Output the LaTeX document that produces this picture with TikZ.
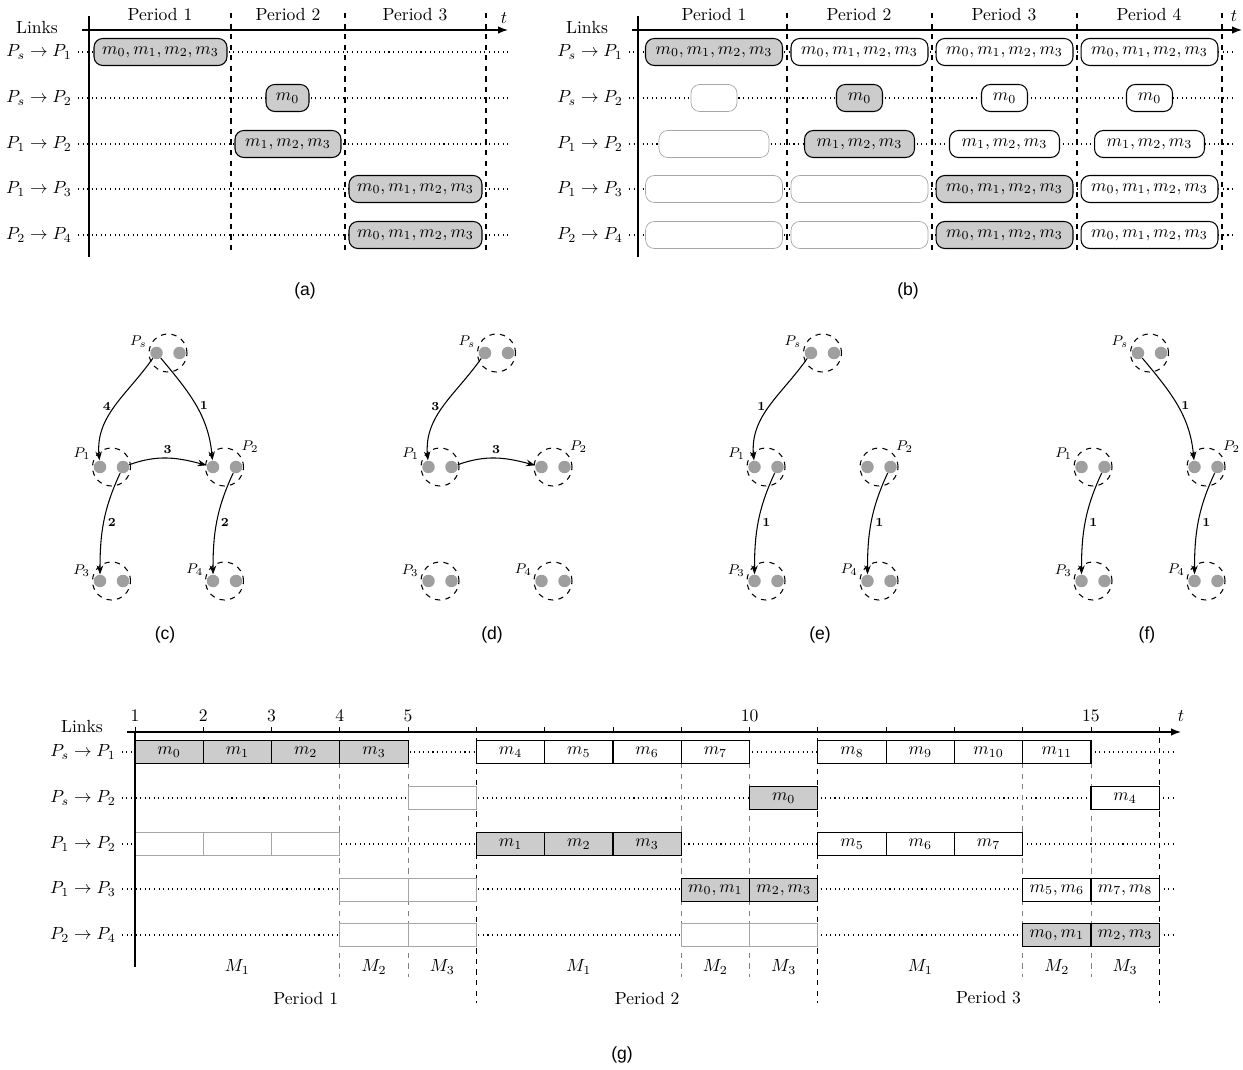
\documentclass[tikz,border=0pt]{standalone}
\usepackage{amsmath}
\usepackage{fontspec}
\newfontfamily\capfont{Liberation Sans}
\usetikzlibrary{arrows.meta, positioning}

\newcommand{\peernode}[4]{%
	\node[peer, label={[plabel]#3:$#4$}] (#1) at (#2) {};
	\node[dot] (#1l) at ([xshift=-0.23cm]#1.center) {};
	\node[dot] (#1r) at ([xshift=0.23cm]#1.center) {};
}

\begin{document}
\begin{tikzpicture}[
		x=0.02cm, y=-0.02cm,
		axis/.style={thick},
		taxis/.style={thick, -{Latex[length=2mm]}},
		row/.style={dotted, semithick},
		period/.style={dashed, semithick},
		slotline/.style={dashed, thin, gray},
		msg/.style={
			draw,
			semithick,
			rounded corners=5pt,
			fill=white,
			minimum height=0.54cm,
			inner sep=0pt
		},
		busy/.style={fill=gray!40},
		sent/.style={},
		idle/.style={draw=gray!70, thin},
		cell/.style={
			draw,
			semithick,
			fill=white,
			minimum width=1.366cm,
			minimum height=0.46cm,
			inner sep=0pt
		},
		peer/.style={circle, draw, dashed, semithick, minimum size=0.76cm, inner sep=0pt},
		dot/.style={circle, fill=gray!75, minimum size=0.25cm, inner sep=0pt},
		plabel/.style={font=\footnotesize, inner sep=1pt},
		edge/.style={-{Stealth[length=1.8mm, width=1.3mm]}, semithick},
		elabel/.style={font=\scriptsize\bfseries, inner sep=2pt},
		caption/.style={font=\capfont}
		]
		
		\useasboundingbox (0,0) rectangle (1243,1070);
		
		% link names and dotted rows
		\foreach \r/\y/\l in {1/52/{P_s\to P_1}, 2/98/{P_s\to P_2}, 3/144/{P_1\to P_2}, 4/189/{P_1\to P_3}, 5/235/{P_2\to P_4}} {
			\node (a-link\r) at (39,\y) {$\l$};
			\draw[row] (a-link\r) -- (508,\y);
			\node (b-link\r) at (590,\y) {$\l$};
			\draw[row] (b-link\r) -- (1236,\y);
			\node (g-link\r) at (83,\y+700) {$\l$};
			\draw[row] (g-link\r) -- (1175,\y+700);
		}
		
		% (a)
		\node (a-links) at (37,28) {Links};
		\foreach \x/\p in {160/1,288/2,415/3}
			\node (a-per\p) at (\x,15) {Period \p};
		\node (a-t) at (504,18) {$t$};
		\draw[axis] (89,16) -- (89,257);
		\draw[taxis] (82,30) -- (508,30);
		\foreach \x in {231,345,486}
			\draw[period] (\x,13) -- (\x,250);
		
		\node[msg, busy, minimum width=2.66cm] (a-ps1) at (160.5,52) {$m_0,m_1,m_2,m_3$};
		\node[msg, busy, minimum width=0.86cm] (a-ps2) at (287.5,98) {$m_0$};
		\node[msg, busy, minimum width=2.12cm] (a-p12) at (288,144) {$m_1,m_2,m_3$};
		\node[msg, busy, minimum width=2.66cm] (a-p13) at (415.5,189) {$m_0,m_1,m_2,m_3$};
		\node[msg, busy, minimum width=2.66cm] (a-p24) at (415.5,235) {$m_0,m_1,m_2,m_3$};
		
		% (b)
		\node (b-links) at (587,28) {Links};
		\foreach \x/\p in {714/1,859/2,1004/3,1149/4}
			\node (b-per\p) at (\x,15) {Period \p};
		\node (b-t) at (1234,16) {$t$};
		\draw[axis] (638,16) -- (638,257);
		\draw[taxis] (632,30) -- (1242,30);
		\foreach \x in {787,932,1077,1222}
			\draw[period] (\x,13) -- (\x,250);
		
		\foreach \p/\x/\s in {1/714/busy,2/859.5/sent,3/1004.5/sent,4/1149.5/sent}
			\node[msg, \s, minimum width=2.74cm] (b1-\p) at (\x,52) {$m_0,m_1,m_2,m_3$};
		\node[msg, idle, minimum width=0.92cm] (b2-1) at (714,98) {};
		\foreach \p/\x/\s in {2/859.5/busy,3/1004.5/sent,4/1149.5/sent}
			\node[msg, \s, minimum width=0.92cm] (b2-\p) at (\x,98) {$m_0$};
		\node[msg, idle, minimum width=2.2cm] (b3-1) at (714,144) {};
		\foreach \p/\x/\s in {2/859.5/busy,3/1004.5/sent,4/1149.5/sent}
			\node[msg, \s, minimum width=2.2cm] (b3-\p) at (\x,144) {$m_1,m_2,m_3$};
		\foreach \r/\y in {4/189,5/235} {
			\node[msg, idle, minimum width=2.74cm] (b\r-1) at (714,\y) {};
			\node[msg, idle, minimum width=2.74cm] (b\r-2) at (859.5,\y) {};
			\node[msg, busy, minimum width=2.74cm] (b\r-3) at (1004.5,\y) {$m_0,m_1,m_2,m_3$};
			\node[msg, minimum width=2.74cm] (b\r-4) at (1149.5,\y) {$m_0,m_1,m_2,m_3$};
		}
		
		\node[caption] (cap-a) at (305,291) {(a)};
		\node[caption] (cap-b) at (908,291) {(b)};
		
		% peers of (c)-(f)
		\foreach \g/\x in {c/168,d/496.5,e/822.5,f/1149.5} {
			\peernode{\g-s}{\x,353}{170}{P_s}
			\peernode{\g-1}{\x-56.5,467}{165}{P_1}
			\peernode{\g-2}{\x+56.5,467}{40}{P_2}
			\peernode{\g-3}{\x-56.5,581}{172}{P_3}
			\peernode{\g-4}{\x+56.5,581}{170}{P_4}
		}
		
		% (c)
		\draw[edge] (c-sl) to[out=-125, in=95] node[elabel, left] (c-w1) {4} (c-1l);
		\draw[edge] (c-sl) to[out=-50, in=95] node[elabel, right] (c-w2) {1} (c-2l);
		\draw[edge] (c-1r) to[out=20, in=165] node[elabel, above] (c-w3) {3} (c-2l);
		\draw[edge] (c-1r) to[out=-115, in=90] node[elabel, right] (c-w4) {2} (c-3l);
		\draw[edge] (c-2r) to[out=-115, in=90] node[elabel, right] (c-w5) {2} (c-4l);
		
		% (d)
		\draw[edge] (d-sl) to[out=-125, in=95] node[elabel, left] (d-w1) {3} (d-1l);
		\draw[edge] (d-1r) to[out=20, in=165] node[elabel, above] (d-w2) {3} (d-2l);
		
		% (e)
		\draw[edge] (e-sl) to[out=-125, in=95] node[elabel, left] (e-w1) {1} (e-1l);
		\draw[edge] (e-1r) to[out=-115, in=90] node[elabel, right] (e-w2) {1} (e-3l);
		\draw[edge] (e-2r) to[out=-115, in=90] node[elabel, right] (e-w3) {1} (e-4l);
		
		% (f)
		\draw[edge] (f-sl) to[out=-50, in=95] node[elabel, right] (f-w1) {1} (f-2l);
		\draw[edge] (f-1r) to[out=-115, in=90] node[elabel, right] (f-w2) {1} (f-3l);
		\draw[edge] (f-2r) to[out=-115, in=90] node[elabel, right] (f-w3) {1} (f-4l);
		
		\node[caption] (cap-c) at (165,635) {(c)};
		\node[caption] (cap-d) at (492,635) {(d)};
		\node[caption] (cap-e) at (820,635) {(e)};
		\node[caption] (cap-f) at (1147,635) {(f)};
		
		% (g)
		\node (g-links) at (82,726) {Links};
		\draw[taxis] (127,732) -- (1181,732);
		\node (g-t) at (1181,716) {$t$};
		
		\begin{scope}[xshift=2.7cm, x=1.366cm]
			\foreach \i in {0,...,15}
				\draw[thin] (\i,732) -- (\i,727);
			\foreach \i/\n in {0/1,1/2,2/3,3/4,4/5,9/10,14/15}
				\node (g-tick\n) at (\i,716) {\n};
			\foreach \i in {3,4,8,9,13,14}
				\draw[slotline] (\i,763) -- (\i,977);
			\foreach \i in {5,10,15}
				\draw[period] (\i,727) -- (\i,1003);
			
			% P_s -> P_1
			\foreach \i/\m in {0/0,1/1,2/2,3/3}
				\node[cell, busy] (g1-\i) at (\i+0.5,752) {$m_{\m}$};
			\foreach \i/\m in {5/4,6/5,7/6,8/7,10/8,11/9,12/10,13/11}
				\node[cell] (g1-\i) at (\i+0.5,752) {$m_{\m}$};
			% P_s -> P_2
			\node[cell, idle] (g2-4) at (4.5,798) {};
			\node[cell, busy] (g2-9) at (9.5,798) {$m_0$};
			\node[cell] (g2-14) at (14.5,798) {$m_4$};
			% P_1 -> P_2
			\foreach \i in {0,1,2}
				\node[cell, idle] (g3-\i) at (\i+0.5,844) {};
			\foreach \i/\m in {5/1,6/2,7/3}
				\node[cell, busy] (g3-\i) at (\i+0.5,844) {$m_{\m}$};
			\foreach \i/\m in {10/5,11/6,12/7}
				\node[cell] (g3-\i) at (\i+0.5,844) {$m_{\m}$};
			% P_1 -> P_3
			\foreach \i in {3,4}
				\node[cell, idle] (g4-\i) at (\i+0.5,890) {};
			\node[cell, busy] (g4-8) at (8.5,890) {$m_0,m_1$};
			\node[cell, busy] (g4-9) at (9.5,890) {$m_2,m_3$};
			\node[cell] (g4-13) at (13.5,890) {$m_5,m_6$};
			\node[cell] (g4-14) at (14.5,890) {$m_7,m_8$};
			% P_2 -> P_4
			\foreach \i in {3,4,8,9}
				\node[cell, idle] (g5-\i) at (\i+0.5,935) {};
			\node[cell, busy] (g5-13) at (13.5,935) {$m_0,m_1$};
			\node[cell, busy] (g5-14) at (14.5,935) {$m_2,m_3$};
			
			\draw[axis] (0,732) -- (0,967);
			
			\foreach \p/\n in {0/1,5/2,10/3} {
				\node (g-m1-\n) at (\p+1.5,967) {$M_1$};
				\node (g-m2-\n) at (\p+3.5,967) {$M_2$};
				\node (g-m3-\n) at (\p+4.5,967) {$M_3$};
				\node (g-per\n) at (\p+2.5,998) {Period \n};
			}
		\end{scope}
		
		\node[caption] (cap-g) at (622,1055) {(g)};
		
	\end{tikzpicture}
\end{document}
